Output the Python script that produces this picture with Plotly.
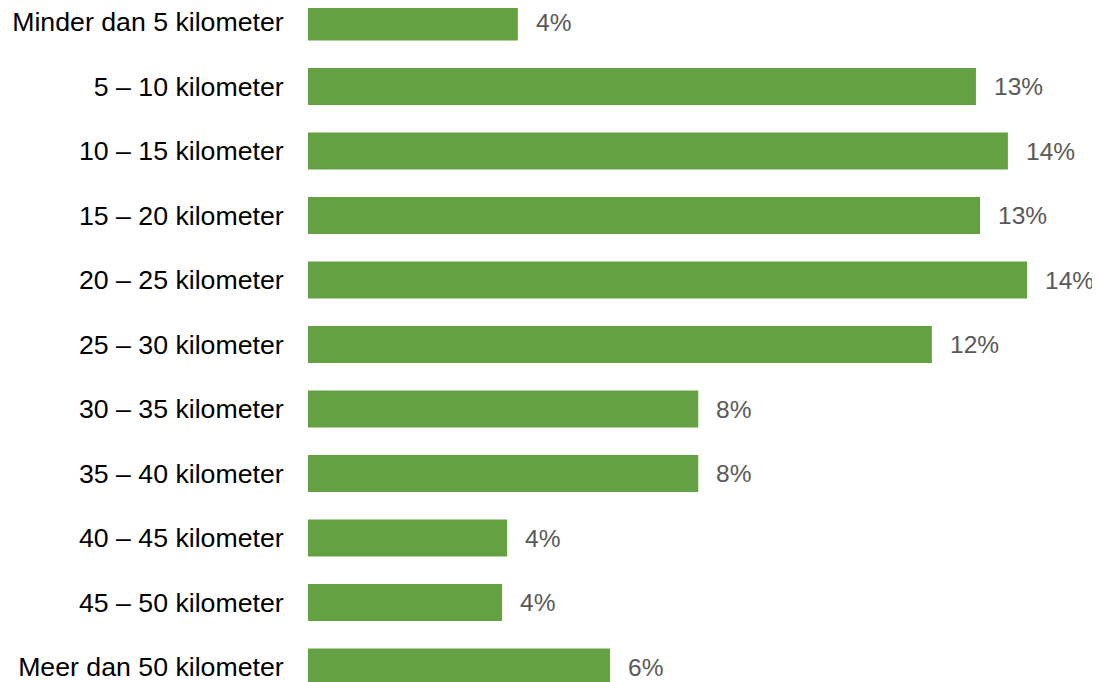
import plotly.graph_objects as go

categories = [
    "Minder dan 5 kilometer",
    "5 – 10 kilometer",
    "10 – 15 kilometer",
    "15 – 20 kilometer",
    "20 – 25 kilometer",
    "25 – 30 kilometer",
    "30 – 35 kilometer",
    "35 – 40 kilometer",
    "40 – 45 kilometer",
    "45 – 50 kilometer",
    "Meer dan 50 kilometer",
]
values = [4.14, 13.18, 13.81, 13.26, 14.19, 12.31, 7.70, 7.70, 3.93, 3.83, 5.96]
labels = [f"{round(v):.0f}%" for v in values]

BAR = "#63a142"
FONT = "Liberation Sans, Arial, sans-serif"
FS = 26.7
FS_VAL = 24.5

# page body has an 8px default margin
W, H = 1092, 674
PX_PER_CAT = 64.5
FIRST = 14

fig = go.Figure(
    go.Bar(
        x=values,
        y=categories,
        orientation="h",
        marker=dict(color=BAR, line=dict(width=0)),
        width=0.57,
        hoverinfo="skip",
        cliponaxis=False,
    )
)

for c, v, t in zip(categories, values, labels):
    fig.add_annotation(
        x=v, y=c, text=t, showarrow=False, xanchor="left", yanchor="middle",
        xshift=16, font=dict(family=FONT, size=FS_VAL, color="#595959"),
    )

fig.update_layout(
    width=W,
    height=H,
    margin=dict(l=300, r=0, t=0, b=0),
    paper_bgcolor="white",
    plot_bgcolor="white",
    showlegend=False,
    font=dict(family=FONT, size=FS, color="#000000"),
    xaxis=dict(range=[0, (W - 300) / 50.68], visible=False, fixedrange=True),
    yaxis=dict(
        range=[(H - FIRST) / PX_PER_CAT, -FIRST / PX_PER_CAT],
        showgrid=False,
        zeroline=False,
        showline=False,
        ticks="outside",
        ticklen=18,
        tickcolor="rgba(0,0,0,0)",
        tickfont=dict(family=FONT, size=FS, color="#000000"),
        fixedrange=True,
    ),
)

fig.write_html("out.html")
